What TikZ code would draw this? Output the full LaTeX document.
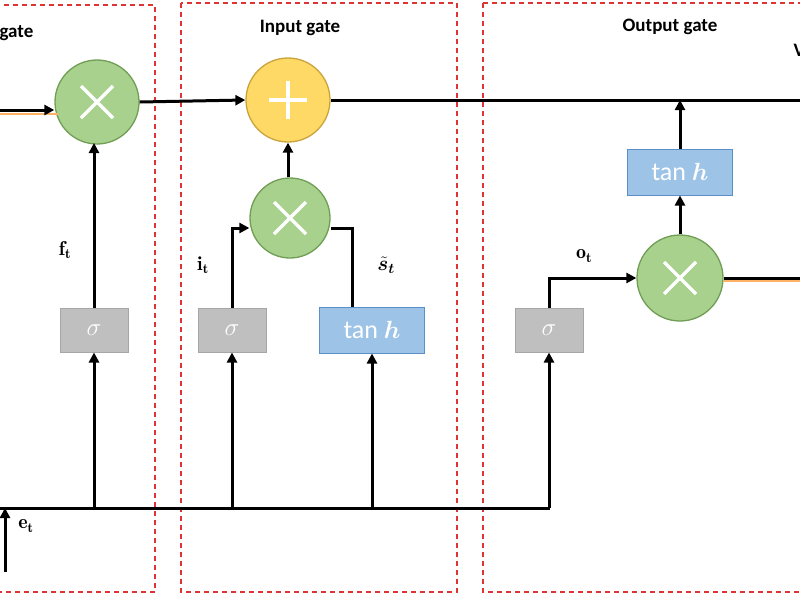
\documentclass[tikz,border=0pt]{standalone}
\usepackage{bm}
\usepackage{fontspec}
\newfontfamily\carl{Carlito}
\usetikzlibrary{arrows.meta}
\definecolor{gfill}{HTML}{A9D18E}\definecolor{gline}{HTML}{6F9E54}
\definecolor{yfill}{HTML}{FFD966}\definecolor{yline}{HTML}{C9A43C}
\definecolor{bfill}{HTML}{9DC3E6}\definecolor{bline}{HTML}{5B8FC7}
\definecolor{sfill}{HTML}{BFBFBF}\definecolor{sline}{HTML}{A6A6A6}
\begin{document}
\begin{tikzpicture}[x=1pt,y=-1pt,
  box/.style={draw=red!85!black!80,line width=1.3pt,dash pattern=on 5pt off 4pt},
  op/.style={circle,minimum size=84pt,inner sep=0pt,line width=1.3pt},
  mul/.style={op,fill=gfill,draw=gline},
  sig/.style={rectangle,fill=sfill,draw=sline,line width=1pt,minimum width=68pt,minimum height=44pt,text=white,font=\fontsize{24}{26}\selectfont},
  th/.style={rectangle,fill=bfill,draw=bline,line width=1pt,minimum width=105pt,minimum height=46pt,text=white,font=\carl\fontsize{26}{28}\selectfont},
  w/.style={line width=3pt},
  a/.style={w,-{Triangle[length=10pt,width=10pt]}},
  ttl/.style={font=\carl\bfseries\fontsize{19}{22}\selectfont},
  lab/.style={font=\fontsize{20}{22}\selectfont}]
\useasboundingbox (0,0) rectangle (800,600);
\draw[box] (-10,5) rectangle (155,592);
\draw[box] (181,3) rectangle (457,592);
\draw[box] (483,3) rectangle (810,592);
\node[ttl,anchor=west] (t1) at (-4,33) {gate};
\node[ttl] (t2) at (300,28) {Input gate};
\node[ttl] (t3) at (670,27) {Output gate};
\node[ttl,anchor=west] (t4) at (790,50) {V};
% nodes
\node[mul] (fx) at (97,102) {};
\node[op,fill=yfill,draw=yline] (plus) at (288,100) {};
\node[mul,minimum size=80pt] (ix) at (290,218) {};
\node[mul,minimum size=86pt] (ox) at (680,278) {};
\foreach \n in {fx,ix,ox}{\draw[white,line width=3.5pt] ([shift={(-16,-16)}]\n.center) -- ([shift={(16,16)}]\n.center) ([shift={(-16,16)}]\n.center) -- ([shift={(16,-16)}]\n.center);}
\draw[white,line width=3.5pt] ([shift={(-19,0)}]plus.center) -- ([shift={(19,0)}]plus.center) ([shift={(0,-19)}]plus.center) -- ([shift={(0,19)}]plus.center);
\node[sig] (fs) at (94,330) {$\sigma$};
\node[sig] (is) at (232,330) {$\sigma$};
\node[sig] (os) at (549,330) {$\sigma$};
\node[th] (it) at (372,330) {tan $\bm{h}$};
\node[th] (ot) at (680,172) {tan $\bm{h}$};
\coordinate (cin) at (0,110);
\coordinate (cout) at (800,100);
\coordinate (hout) at (800,278);
\coordinate (bl) at (0,508);
\coordinate (br) at (550,508);
\coordinate (e0) at (5,572);
% connectors
\draw[orange!60,line width=1.2pt] (0,114) -- (58,114);
\draw[a] (cin) -- (fx.west|-cin);
\draw[a] (fx.east) -- (plus.west);
\draw[w] (plus.east) -- (cout);
\draw[w] (bl) -- (br);
\draw[a] (e0) -- (5,508);
\draw[a] (94,508) -- (fs.south);
\draw[a] (fs.north) -- (fs.north|-0,143);
\draw[a] (232,508) -- (is.south);
\draw[a] (is.north) |- (ix.west|-0,228);
\draw[w] (it.north-|352,0) |- (ix.east|-0,228);
\draw[a] (372,508) -- (it.south);
\draw[a] (ix.north-|288,0) -- (plus.south);
\draw[a] (549,508) -- (os.south);
\draw[a] (os.north) |- (ox.west);
\draw[a] (ox.north) -- (ot.south);
\draw[a] (ot.north) -- (680,100);
\draw[orange!60,line width=1.2pt] (ox.east) ++(0,3) -- (800,281);
\draw[w] (ox.east) -- (hout);
\node[lab] (lf) at (65,250) {$\mathbf{f_t}$};
\node[lab] (li) at (203,265) {$\mathbf{i_t}$};
\node[lab] (ls) at (386,265) {$\bm{\tilde{s}_t}$};
\node[lab] (lo) at (584,256) {$\mathbf{o_t}$};
\node[lab] (le) at (26,526) {$\mathbf{e_t}$};
\end{tikzpicture}
\end{document}
